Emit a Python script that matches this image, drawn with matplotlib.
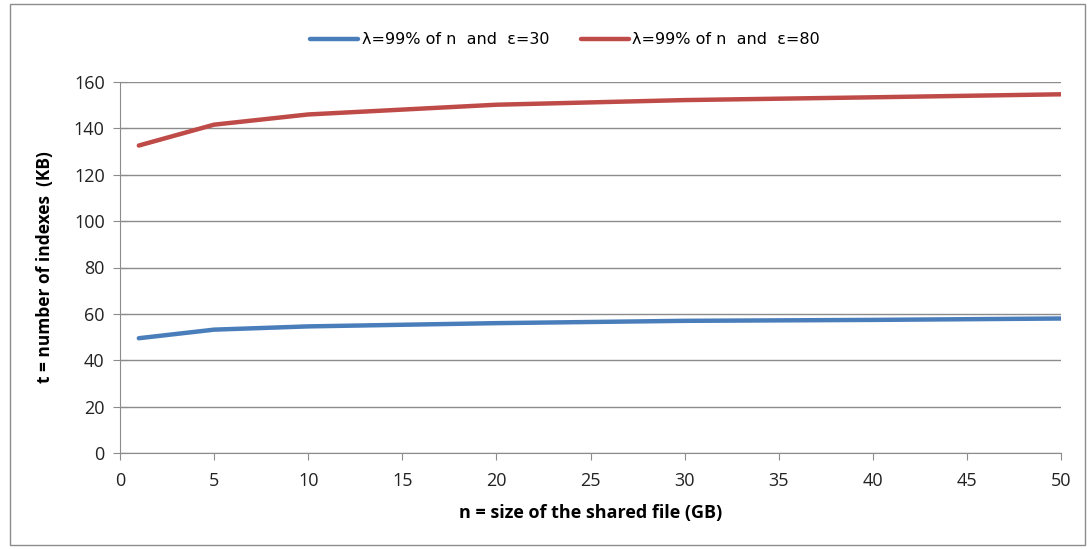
import matplotlib.pyplot as plt
from matplotlib.patches import Rectangle

plt.rcParams['font.family'] = ['Open Sans', 'DejaVu Sans']

# === data ===
n_gb = [1, 5, 10, 20, 30, 40, 50]
t_eps30 = [49.5, 53.2, 54.6, 56.0, 57.0, 57.4, 58.0]
t_eps80 = [132.6, 141.6, 146.0, 150.2, 152.2, 153.4, 154.7]
labels = ["λ=99% of n  and  ε=30", "λ=99% of n  and  ε=80"]

fig = plt.figure(figsize=(10.91, 5.49), dpi=100)
ax = fig.add_axes([120 / 1091, 1 - 453 / 549, (1061 - 120) / 1091, (453 - 82) / 549])

ax.plot(n_gb, t_eps30, color="#4a7ebb", lw=3.2, label=labels[0], solid_capstyle="round")
ax.plot(n_gb, t_eps80, color="#be4b48", lw=3.2, label=labels[1], solid_capstyle="round")

ax.set_xlim(0, 50)
ax.set_ylim(0, 160)
ax.set_xticks(range(0, 51, 5))
ax.set_yticks(range(0, 161, 20))
ax.grid(axis="y", color="#8c8c8c", lw=1)
ax.set_axisbelow(True)
for s in ["top", "right"]:
    ax.spines[s].set_visible(False)
for s in ["left", "bottom"]:
    ax.spines[s].set_color("#8c8c8c")
ax.tick_params(axis="y", direction="inout", length=10, color="#8c8c8c", labelsize=13, labelcolor="#222222", pad=6)
ax.tick_params(axis="x", direction="out", length=5, color="#8c8c8c", labelsize=13, labelcolor="#222222", pad=9)

ax.set_xlabel("n = size of the shared file (GB)", fontsize=13, fontweight="bold", labelpad=10)
ax.set_ylabel("t = number of indexes  (KB)", fontsize=12.5, fontweight="bold", labelpad=14)

fig.legend(loc="center", bbox_to_anchor=(0.518, 1 - 40 / 549), ncol=2, frameon=False,
           prop={"family": "DejaVu Sans", "size": 11.5}, handlelength=3.0, handletextpad=0.2,
           columnspacing=2.0)

# outer chart border
fig.patches.append(Rectangle((10 / 1091, 4 / 549), 1075 / 1091, 541 / 549,
                             transform=fig.transFigure, fill=False, ec="#8c8c8c", lw=1))

plt.savefig("out.png", dpi=100)
